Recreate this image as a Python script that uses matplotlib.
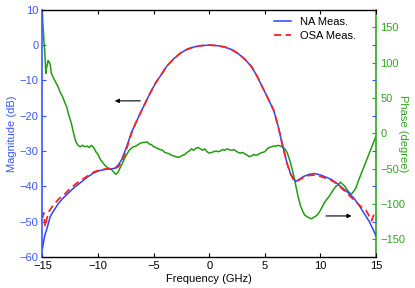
import matplotlib
matplotlib.use("Agg")
import matplotlib.pyplot as plt

plt.rcParams['font.family'] = ['Liberation Sans', 'DejaVu Sans']

# ---------------- data ----------------
freq_na = [-15, -14.8, -14.6, -14.3, -14.0, -13.6, -13.2, -12.7, -12.2, -11.6, -11.0, -10.4,
           -9.8, -9.3, -8.9, -8.5, -8.2, -7.9, -7.6, -7.3, -7.0, -6.6, -6.2, -5.8, -5.3,
           -4.8, -4.3, -3.8, -3.2, -2.6, -2.0, -1.4, -0.7, 0, 0.7, 1.4, 2.0, 2.6, 3.2, 3.8,
           4.3, 4.8, 5.3, 5.8, 6.2, 6.6, 7.0, 7.3, 7.6, 7.8, 8.1, 8.5, 9.0, 9.5, 10.0, 10.5,
           11.0, 11.5, 12.0, 12.5, 13.0, 13.5, 14.0, 14.4, 14.7, 15]
mag_na = [-57.5, -54.0, -52.0, -48.5, -47.0, -45.0, -43.5, -42.0, -40.5, -39.0, -37.5, -36.2,
          -35.5, -35.2, -35.1, -34.9, -34.0, -32.6, -30.2, -27.6, -24.8, -22.0, -19.3, -16.7, -13.5,
          -10.6, -8.3, -5.9, -3.9, -2.3, -1.2, -0.55, -0.15, 0.0, -0.15, -0.55, -1.25, -2.4, -4.0, -6.1,
          -8.8, -12.0, -15.2, -18.5, -23.0, -28.5, -33.5, -36.3, -38.0, -38.6, -38.0, -37.2, -36.6, -36.4, -36.8, -37.4,
          -38.1, -39.2, -40.5, -41.8, -43.3, -45.5, -48.0, -50.0, -52.0, -54.0]

freq_osa = [-15, -14.9, -14.75, -14.6, -14.4, -14.0, -13.5, -13.0, -12.5, -12.0, -11.5, -11.0,
            -10.4, -9.8, -9.3, -8.9, -8.5, -8.2, -7.9, -7.6, -7.3, -7.0, -6.6, -6.2, -5.8, -5.3,
            -4.8, -4.3, -3.8, -3.2, -2.6, -2.0, -1.4, -0.7, 0, 0.7, 1.4, 2.0, 2.6, 3.2, 3.8,
            4.3, 4.8, 5.3, 5.8, 6.2, 6.6, 7.0, 7.3, 7.6, 7.8, 8.1, 8.5, 9.0, 9.5, 10.0, 10.5,
            11.0, 11.5, 12.0, 12.5, 13.0, 13.5, 13.8, 14.1, 14.4, 14.6, 14.8, 15]
mag_osa = [-49.0, -47.5, -51.5, -49.0, -47.0, -45.2, -43.5, -42.2, -40.6, -39.3, -38.2, -37.2,
           -36.0, -35.3, -35.1, -35.0, -34.9, -34.5, -33.3, -31.0, -28.0, -25.0, -22.0, -19.3, -16.7, -13.5,
           -10.6, -8.3, -5.9, -3.9, -2.3, -1.2, -0.55, -0.15, 0.0, -0.15, -0.55, -1.25, -2.4, -4.0, -6.1,
           -8.8, -12.0, -15.2, -18.5, -23.0, -28.5, -33.5, -36.5, -38.2, -38.7, -38.2, -37.5, -36.9, -36.8, -37.2, -37.7,
           -38.3, -39.3, -40.8, -42.3, -43.8, -45.3, -46.2, -46.8, -48.5, -49.8, -48.0, -46.8]

freq_ph = [-15.0, -14.95, -14.9, -14.85, -14.8, -14.75, -14.7, -14.65, -14.6, -14.5, -14.4, -14.3,
           -14.2, -14.0, -13.8, -13.6, -13.4, -13.2, -13.0, -12.8, -12.6, -12.4, -12.2, -12.0,
           -11.8, -11.6, -11.4, -11.2, -11.0, -10.8, -10.6, -10.4, -10.2, -10.0, -9.8, -9.6,
           -9.4, -9.2, -9.0, -8.8, -8.6, -8.4, -8.2, -8.0, -7.8, -7.6, -7.4, -7.2, -7.0, -6.8,
           -6.6, -6.4, -6.2, -6.0, -5.8, -5.6, -5.4, -5.2, -5.0, -4.8, -4.6, -4.4, -4.2, -4.0,
           -3.8, -3.6, -3.4, -3.2, -3.0, -2.8, -2.6, -2.4, -2.2, -2.0, -1.8, -1.6, -1.4, -1.2,
           -1.0, -0.8, -0.6, -0.4, -0.2, 0.0, 0.2, 0.4, 0.6, 0.8, 1.0, 1.2, 1.4, 1.6, 1.8, 2.0,
           2.2, 2.4, 2.6, 2.8, 3.0, 3.2, 3.4, 3.6, 3.8, 4.0, 4.2, 4.4, 4.6, 4.8, 5.0, 5.2, 5.4,
           5.6, 5.8, 6.0, 6.2, 6.4, 6.6, 6.8, 7.0, 7.2, 7.4, 7.6, 7.8, 8.0, 8.2, 8.4, 8.6, 8.8,
           9.0, 9.2, 9.4, 9.6, 9.8, 10.0, 10.2, 10.4, 10.6, 10.8, 11.0, 11.2, 11.4, 11.6, 11.8,
           12.0, 12.2, 12.4, 12.6, 12.8, 13.0, 13.2, 13.4, 13.6, 13.8, 14.0, 14.2, 14.4, 14.6,
           14.8, 15.0]
phase = [168, 150, 140, 125, 118, 100, 85, 92, 95, 103, 101, 97,
         85, 78, 72, 66, 58, 52, 44, 36, 24, 14, 0, -12,
         -17, -19, -17, -19, -18, -20, -17, -20, -26, -30, -37, -41,
         -45, -48, -50, -51, -55, -58, -55, -48, -42, -35, -29, -24, -21, -19,
         -18, -16, -14, -13, -13, -12, -15, -16, -19, -20, -22, -23, -24, -27,
         -28, -29, -31, -32, -33, -34, -33, -31, -30, -27, -25, -22, -24, -21,
         -20, -22, -24, -22, -26, -28, -27, -26, -25, -26, -25, -23, -24, -22, -23, -24,
         -23, -25, -27, -28, -27, -29, -31, -33, -32, -30, -31, -30, -28, -27, -26, -22, -20,
         -19, -18, -18, -17, -18, -19, -22, -27, -36, -47, -60, -75, -90, -102, -110, -116, -118,
         -120, -121, -119, -117, -114, -109, -103, -97, -93, -89, -84, -79, -75, -73, -69,
         -72, -75, -80, -84, -86, -82, -77, -68, -60, -52, -44, -36, -28, -20,
         -12, -4]

x_ticks = [-15, -10, -5, 0, 5, 10, 15]
mag_ticks = [-60, -50, -40, -30, -20, -10, 0, 10]
phase_ticks = [-150, -100, -50, 0, 50, 100, 150]

# ---------------- style ----------------
c_blue = '#2b45ff'
c_red = '#ff2020'
c_green = '#1f9e10'
c_lblue = '#3a55ff'
c_lgreen = '#2ea81e'

fig = plt.figure(figsize=(4.15, 2.88), dpi=100)
ax = fig.add_axes([0.1024, 0.108, 0.8036, 0.858])
ax2 = ax.twinx()

ax2.plot(freq_ph, phase, color=c_green, lw=1.1, zorder=1)
ax.set_zorder(ax2.get_zorder() + 1)
ax.patch.set_visible(False)

l1, = ax.plot(freq_na, mag_na, color=c_blue, lw=1.1, label='NA Meas.')
l2, = ax.plot(freq_osa, mag_osa, color=c_red, lw=1.3, ls=(0, (4, 2.5)), label='OSA Meas.')

ax.set_xlim(-15, 15)
ax.set_ylim(-60, 10)
ax2.set_ylim(-175, 175)
ax.set_xticks(x_ticks)
ax.set_yticks(mag_ticks)
ax2.set_yticks(phase_ticks)

fs = 8
ax.tick_params(axis='x', direction='in', top=True, length=3, width=0.8, labelsize=fs, pad=3)
ax.tick_params(axis='y', direction='in', right=True, length=3, width=0.8, labelsize=fs,
               colors=c_lblue, labelcolor=c_lblue, pad=3)
ax2.tick_params(axis='y', direction='in', length=3, width=0.8, labelsize=fs,
                colors=c_lgreen, labelcolor=c_lgreen, pad=3)

for s in ['top', 'bottom']:
    ax.spines[s].set_linewidth(1.0)
ax.spines['left'].set_color(c_lblue)
ax.spines['left'].set_linewidth(1.2)
ax.spines['right'].set_visible(False)
ax2.spines['right'].set_color(c_lgreen)
ax2.spines['right'].set_linewidth(1.2)
ax2.spines['left'].set_visible(False)
ax2.spines['top'].set_visible(False)
ax2.spines['bottom'].set_visible(False)

ax.set_xlabel('Frequency (GHz)', fontsize=fs, labelpad=2)
ax.set_ylabel('Magnitude (dB)', fontsize=fs, color=c_lblue, labelpad=2)
ax2.set_ylabel('Phase (degree)', fontsize=fs, color=c_lgreen, rotation=270,
               va='center', ha='center')
ax2.yaxis.set_label_coords(1.082, 0.5)

ax.legend(handles=[l1, l2], loc='upper right', frameon=False, fontsize=fs,
          handlelength=1.5, handletextpad=0.8, labelspacing=0.35,
          bbox_to_anchor=(0.97, 1.01))

arrow = dict(arrowstyle='-|>', color='k', lw=0.8, mutation_scale=6, shrinkA=0, shrinkB=0)
ax.annotate('', xy=(-8.5, -15.8), xytext=(-6.2, -15.8), arrowprops=arrow)
ax.annotate('', xy=(12.8, -48.4), xytext=(10.5, -48.4), arrowprops=arrow)

fig.savefig('out.png', dpi=100)
